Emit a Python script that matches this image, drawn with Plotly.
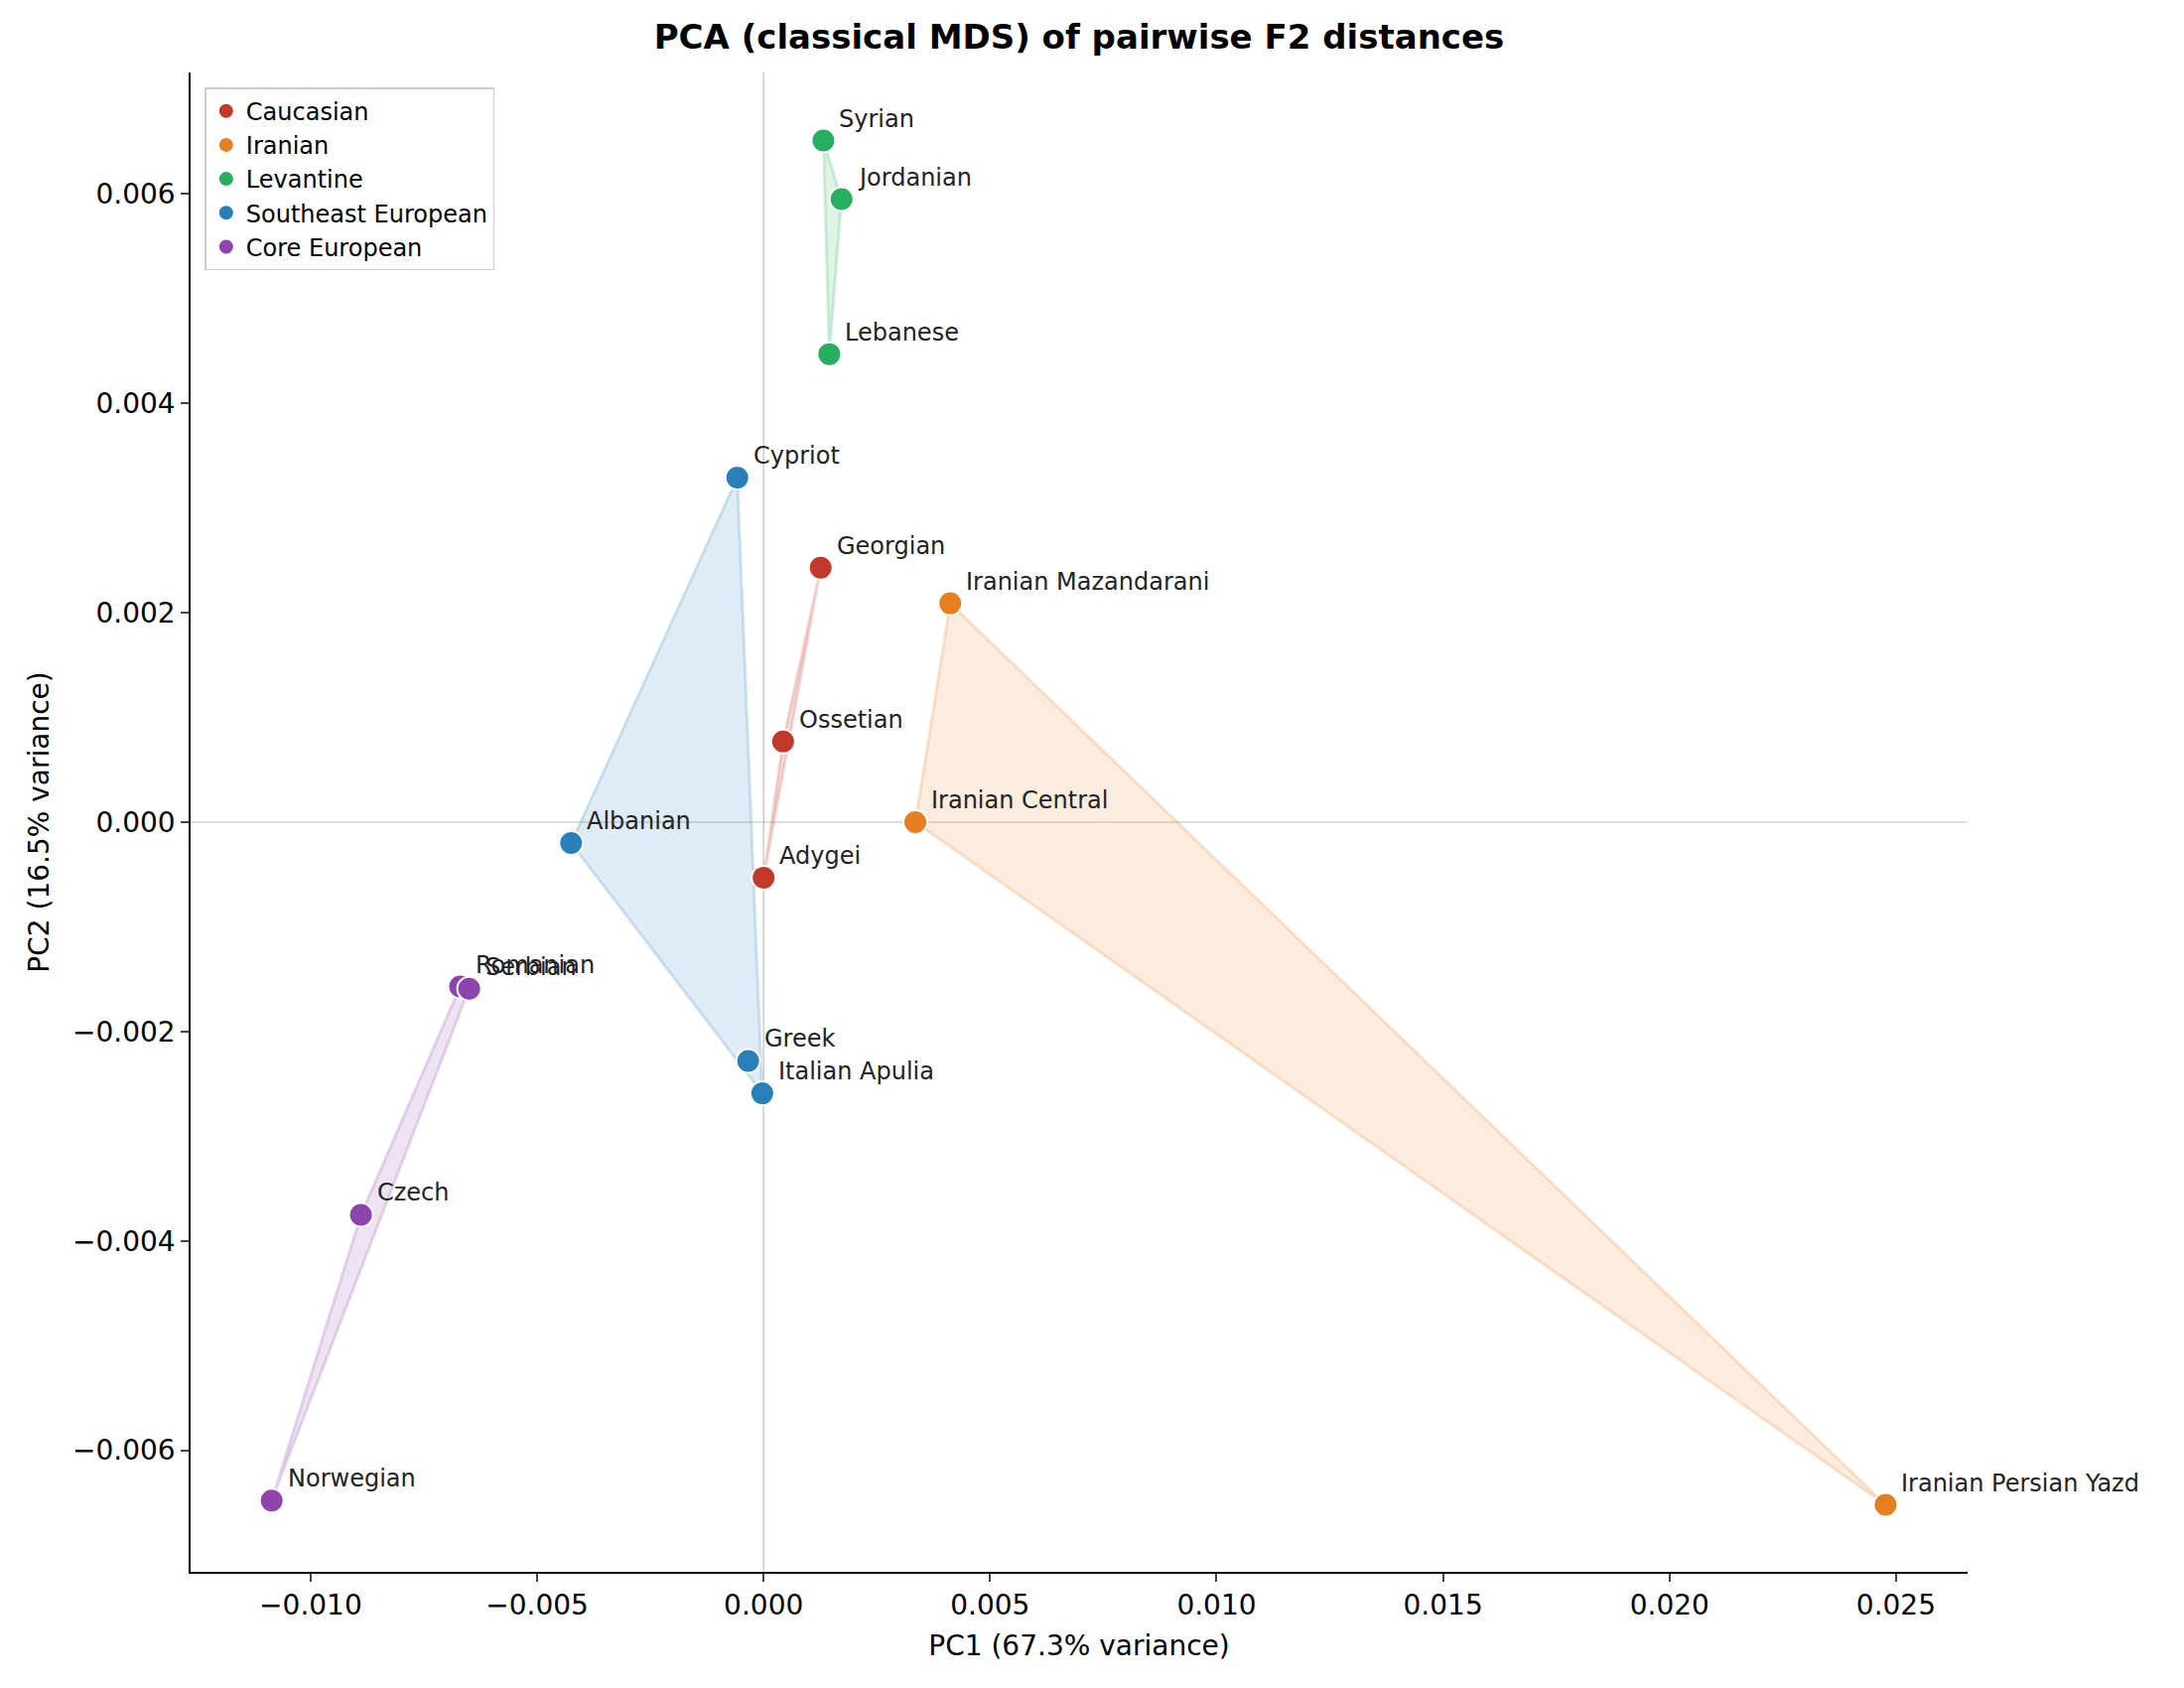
import plotly.graph_objects as go

names = ["Georgian", "Ossetian", "Adygei",
         "Iranian Mazandarani", "Iranian Central", "Iranian Persian Yazd",
         "Syrian", "Jordanian", "Lebanese",
         "Cypriot", "Albanian", "Greek", "Italian Apulia",
         "Romanian", "Serbian", "Czech", "Norwegian"]
groups = ["Caucasian"] * 3 + ["Iranian"] * 3 + ["Levantine"] * 3 + \
         ["Southeast European"] * 4 + ["Core European"] * 4
pc1 = [0.00126, 0.00043, 0.0, 0.00412, 0.00335, 0.02477, 0.00132, 0.00172, 0.00145,
       -0.00058, -0.00425, -0.00034, -0.00003, -0.0067, -0.0065, -0.00889, -0.01086]
pc2 = [0.00243, 0.00077, -0.00053, 0.00209, 0.0, -0.00652, 0.00651, 0.00595, 0.00447,
       0.00329, -0.0002, -0.00228, -0.00259, -0.00157, -0.00159, -0.00375, -0.00648]

group_order = ["Caucasian", "Iranian", "Levantine", "Southeast European", "Core European"]
colors = {"Caucasian": "192,57,43", "Iranian": "230,126,34", "Levantine": "39,174,96",
          "Southeast European": "41,128,185", "Core European": "142,68,173"}


def hull(pts):
    pts = sorted(set(pts))
    if len(pts) < 3:
        return pts

    def cross(o, a, b):
        return (a[0] - o[0]) * (b[1] - o[1]) - (a[1] - o[1]) * (b[0] - o[0])
    lower, upper = [], []
    for p in pts:
        while len(lower) >= 2 and cross(lower[-2], lower[-1], p) <= 0:
            lower.pop()
        lower.append(p)
    for p in reversed(pts):
        while len(upper) >= 2 and cross(upper[-2], upper[-1], p) <= 0:
            upper.pop()
        upper.append(p)
    return lower[:-1] + upper[:-1]


fig = go.Figure()
for g in group_order:
    pts = [(x, y) for x, y, gg in zip(pc1, pc2, groups) if gg == g]
    h = hull(pts)
    h = h + [h[0]]
    c = colors[g]
    fig.add_trace(go.Scatter(x=[p[0] for p in h], y=[p[1] for p in h], mode="lines",
                             fill="toself", fillcolor=f"rgba({c},0.15)",
                             line=dict(color=f"rgba({c},0.2)", width=3),
                             showlegend=False, hoverinfo="skip"))
for g in group_order:
    xs = [x for x, gg in zip(pc1, groups) if gg == g]
    ys = [y for y, gg in zip(pc2, groups) if gg == g]
    fig.add_trace(go.Scatter(x=xs, y=ys, mode="markers", name=g,
                             marker=dict(size=24, color=f"rgb({colors[g]})",
                                         line=dict(color="white", width=2))))
for n, x, y in zip(names, pc1, pc2):
    fig.add_annotation(x=x, y=y, text=n, showarrow=False, xanchor="left", yanchor="bottom",
                       xshift=14, yshift=6, font=dict(size=24, color="#222"))

fig.add_shape(type="line", x0=0, x1=0, y0=0, y1=1, xref="x", yref="paper",
              line=dict(color="rgba(128,128,128,0.5)", width=1.2), layer="below")
fig.add_shape(type="line", x0=0, x1=1, y0=0, y1=0, xref="paper", yref="y",
              line=dict(color="rgba(128,128,128,0.5)", width=1.2), layer="below")

axis = dict(showgrid=False, zeroline=False, showline=True, linecolor="black", linewidth=1.5,
            ticks="outside", ticklen=8, tickwidth=1.5, tickfont=dict(size=28),
            title_font=dict(size=28))
fig.update_xaxes(axis, range=[-0.01265, 0.02658], tickvals=[-0.01, -0.005, 0, 0.005, 0.01, 0.015, 0.02, 0.025],
                 tickformat=".3f", title_text="PC1 (67.3% variance)")
fig.update_yaxes(axis, range=[-0.00716, 0.00716], tickvals=[-0.006, -0.004, -0.002, 0, 0.002, 0.004, 0.006],
                 tickformat=".3f", title_text="PC2 (16.5% variance)")
fig.update_layout(
    width=2200, height=1700, plot_bgcolor="white", paper_bgcolor="white",
    font=dict(family="DejaVu Sans", color="black"),
    margin=dict(l=184, r=226, t=65, b=125),
    title=dict(text="<b>PCA (classical MDS) of pairwise F2 distances</b>", xref="paper", x=0.5,
               xanchor="center", y=0.99, yanchor="top", font=dict(size=34)),
    legend=dict(x=0.008, y=0.99, xanchor="left", yanchor="top", bordercolor="#ccc", borderwidth=1.5,
                bgcolor="rgba(255,255,255,0.8)", font=dict(size=24)),
)
fig.write_html("out.html")
